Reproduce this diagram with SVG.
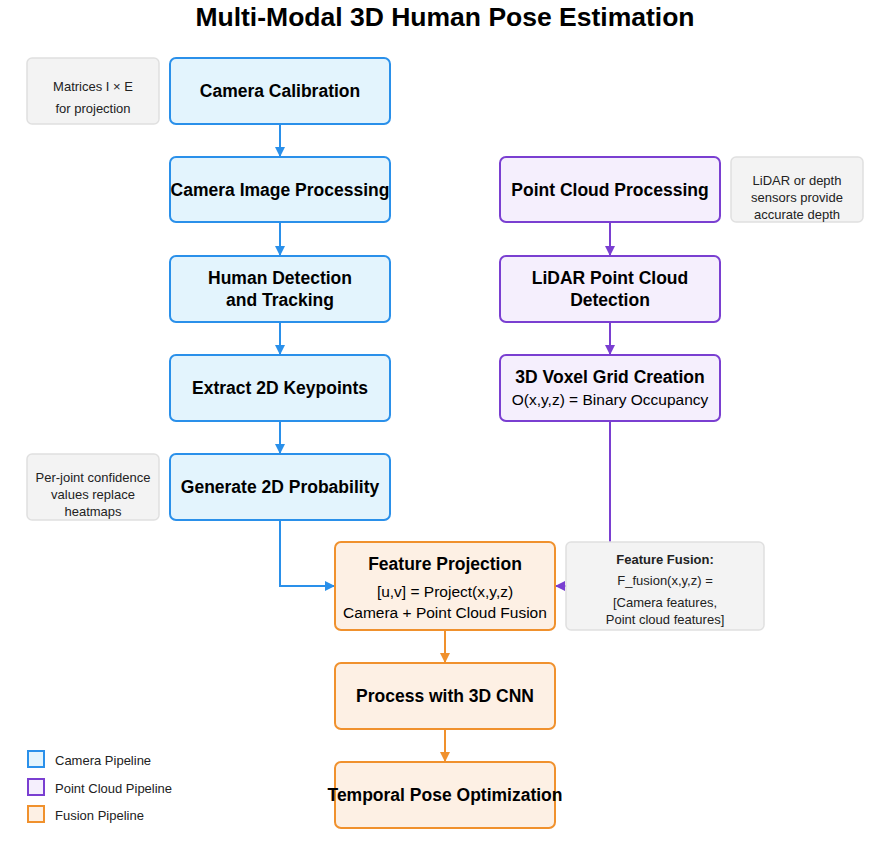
<svg xmlns="http://www.w3.org/2000/svg" width="879" height="856" viewBox="0 0 879 856">
<defs>
<style>
text{font-family:"Liberation Sans",Arial,sans-serif;fill:#000;text-anchor:middle}
.title{font-size:26.5px;font-weight:bold}
.nt{font-size:17.5px;font-weight:bold}
.sub{font-size:15.5px}
.note{font-size:13px;fill:#222}
.lg{font-size:13px;text-anchor:start;fill:#222}
.cam{fill:#e3f4fd;stroke:#2a90ea;stroke-width:2}
.pc{fill:#f5effd;stroke:#7a3fd1;stroke-width:2}
.fu{fill:#fdf0e4;stroke:#f0912d;stroke-width:2}
.nb{fill:#f3f3f3;stroke:#e0e0e0;stroke-width:1.5}
.cl{stroke:#2a90ea;stroke-width:2;fill:none}
.pl{stroke:#7a3fd1;stroke-width:2;fill:none}
.fl{stroke:#f0912d;stroke-width:2;fill:none}
</style>
<marker id="ab" markerWidth="10" markerHeight="10" refX="10" refY="5" orient="auto" markerUnits="userSpaceOnUse"><path d="M0,0 L10,5 L0,10 z" fill="#2a90ea"/></marker>
<marker id="ap" markerWidth="10" markerHeight="10" refX="10" refY="5" orient="auto" markerUnits="userSpaceOnUse"><path d="M0,0 L10,5 L0,10 z" fill="#7a3fd1"/></marker>
<marker id="ao" markerWidth="10" markerHeight="10" refX="10" refY="5" orient="auto" markerUnits="userSpaceOnUse"><path d="M0,0 L10,5 L0,10 z" fill="#f0912d"/></marker>
</defs>
<rect width="879" height="856" fill="#fff"/>
<text class="title" x="445" y="26">Multi-Modal 3D Human Pose Estimation</text>

<g id="connectors">
<path class="cl" d="M280,124 V157" marker-end="url(#ab)"/>
<path class="cl" d="M280,222 V256" marker-end="url(#ab)"/>
<path class="cl" d="M280,322 V355" marker-end="url(#ab)"/>
<path class="cl" d="M280,421 V454" marker-end="url(#ab)"/>
<path class="cl" d="M280,520 V586 H335" marker-end="url(#ab)"/>
<path class="pl" d="M610,222 V256" marker-end="url(#ap)"/>
<path class="pl" d="M610,322 V355" marker-end="url(#ap)"/>
<path class="pl" d="M610,421 V586 H555" marker-end="url(#ap)"/>
<path class="fl" d="M445,630 V663" marker-end="url(#ao)"/>
<path class="fl" d="M445,729 V762" marker-end="url(#ao)"/>
</g>

<g id="note-matrices"><rect class="nb" x="27" y="58" width="132" height="66" rx="5"/>
<text class="note" x="93" y="91">Matrices I × E</text><text class="note" x="93" y="113">for projection</text></g>
<g id="camera-calibration"><rect class="cam" x="170" y="58" width="220" height="66" rx="6"/>
<text class="nt" x="280" y="97">Camera Calibration</text></g>
<g id="camera-image-processing"><rect class="cam" x="170" y="157" width="220" height="65" rx="6"/>
<text class="nt" x="280" y="196">Camera Image Processing</text></g>
<g id="human-detection"><rect class="cam" x="170" y="256" width="220" height="66" rx="6"/>
<text class="nt" x="280" y="284">Human Detection</text><text class="nt" x="280" y="306">and Tracking</text></g>
<g id="extract-2d"><rect class="cam" x="170" y="355" width="220" height="66" rx="6"/>
<text class="nt" x="280" y="394">Extract 2D Keypoints</text></g>
<g id="note-perjoint"><rect class="nb" x="27" y="454" width="132" height="66" rx="5"/>
<text class="note" x="93" y="482">Per-joint confidence</text><text class="note" x="93" y="499">values replace</text><text class="note" x="93" y="516">heatmaps</text></g>
<g id="generate-2d"><rect class="cam" x="170" y="454" width="220" height="66" rx="6"/>
<text class="nt" x="280" y="493">Generate 2D Probability</text></g>

<g id="point-cloud-processing"><rect class="pc" x="500" y="157" width="220" height="65" rx="6"/>
<text class="nt" x="610" y="196">Point Cloud Processing</text></g>
<g id="note-lidar"><rect class="nb" x="731" y="157" width="132" height="65" rx="5"/>
<text class="note" x="797" y="185">LiDAR or depth</text><text class="note" x="797" y="202">sensors provide</text><text class="note" x="797" y="219">accurate depth</text></g>
<g id="lidar-detection"><rect class="pc" x="500" y="256" width="220" height="66" rx="6"/>
<text class="nt" x="610" y="284">LiDAR Point Cloud</text><text class="nt" x="610" y="306">Detection</text></g>
<g id="voxel-grid"><rect class="pc" x="500" y="355" width="220" height="66" rx="6"/>
<text class="nt" x="610" y="383">3D Voxel Grid Creation</text><text class="sub" x="610" y="405">O(x,y,z) = Binary Occupancy</text></g>

<g id="feature-projection"><rect class="fu" x="335" y="542" width="220" height="88" rx="6"/>
<text class="nt" x="445" y="570">Feature Projection</text><text class="sub" x="445" y="597">[u,v] = Project(x,y,z)</text><text class="sub" x="445" y="618">Camera + Point Cloud Fusion</text></g>
<g id="note-fusion"><rect class="nb" x="566" y="542" width="198" height="88" rx="5"/>
<text class="note" x="665" y="564" font-weight="bold">Feature Fusion:</text><text class="note" x="665" y="585">F_fusion(x,y,z) =</text><text class="note" x="665" y="607">[Camera features,</text><text class="note" x="665" y="624">Point cloud features]</text></g>
<g id="process-3dcnn"><rect class="fu" x="335" y="663" width="220" height="66" rx="6"/>
<text class="nt" x="445" y="702">Process with 3D CNN</text></g>
<g id="temporal-pose"><rect class="fu" x="335" y="762" width="220" height="66" rx="6"/>
<text class="nt" x="445" y="801">Temporal Pose Optimization</text></g>

<g id="legend">
<rect class="cam" x="28" y="751" width="16" height="16"/><text class="lg" x="55" y="765">Camera Pipeline</text>
<rect class="pc" x="28" y="779" width="16" height="16"/><text class="lg" x="55" y="793">Point Cloud Pipeline</text>
<rect class="fu" x="28" y="806" width="16" height="16"/><text class="lg" x="55" y="820">Fusion Pipeline</text>
</g>
</svg>
